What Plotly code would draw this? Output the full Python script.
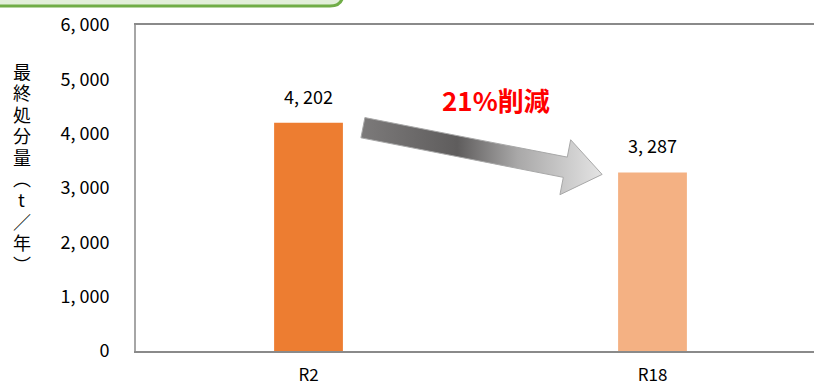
import math
import plotly.graph_objects as go

# Final disposal amount (t/year)
categories = ["R2", "R18"]
values = [4202, 3287]
bar_colors = ["#ED7D31", "#F4B183"]
y_ticks = [0, 1000, 2000, 3000, 4000, 5000, 6000]
y_title = "最終処分量︵t／年︶"

FONT = "Noto Sans CJK JP"
W, H = 814, 385
ML, MR, MT, MB = 136, 0, 25, 34
PW, PH = W - ML - MR, H - MT - MB
X_RANGE = [-0.5015, 1.4695]
Y_RANGE = [0, 6000]
BAR_W = 0.2


def fmt(v):
    return f"{v:,}".replace(",", ", ")


# pixel <-> data helpers for decorations
def px_to_x(px):
    return (px - ML) / PW * (X_RANGE[1] - X_RANGE[0]) + X_RANGE[0]


def py_to_y(py):
    return (MT + PH - py) / PH * (Y_RANGE[1] - Y_RANGE[0]) + Y_RANGE[0]


def x_to_px(x):
    return ML + (x - X_RANGE[0]) / (X_RANGE[1] - X_RANGE[0]) * PW


def y_to_py(y):
    return MT + PH - (y - Y_RANGE[0]) / (Y_RANGE[1] - Y_RANGE[0]) * PH


def paper_x(px):
    return (px - ML) / PW


def paper_y(py):
    return (MT + PH - py) / PH


xs = list(range(len(categories)))

fig = go.Figure()
fig.add_trace(go.Bar(
    x=xs, y=values, width=BAR_W,
    marker=dict(color=bar_colors, line=dict(width=0)),
    hoverinfo="skip",
))

# Gradient arrow from the first bar's top toward the second bar's top
bw_px = BAR_W / (X_RANGE[1] - X_RANGE[0]) * PW
tail = (x_to_px(xs[0]) + bw_px / 2 + 20, y_to_py(values[0]) + 5)
tip = (x_to_px(xs[1]) - bw_px / 2 - 16, y_to_py(values[1]) + 2)
dx, dy = tip[0] - tail[0], tip[1] - tail[1]
L = math.hypot(dx, dy)
ux, uy = dx / L, dy / L
nx, ny = -uy, ux
shaft_h, head_h, head_len = 10.3, 28.0, 37.5
base = (tip[0] - ux * head_len, tip[1] - uy * head_len)
pts = [
    (tail[0] - nx * shaft_h, tail[1] - ny * shaft_h),
    (base[0] - nx * shaft_h, base[1] - ny * shaft_h),
    (base[0] - nx * head_h, base[1] - ny * head_h),
    tip,
    (base[0] + nx * head_h, base[1] + ny * head_h),
    (base[0] + nx * shaft_h, base[1] + ny * shaft_h),
    (tail[0] + nx * shaft_h, tail[1] + ny * shaft_h),
]
pts.append(pts[0])
fig.add_trace(go.Scatter(
    x=[px_to_x(p[0]) for p in pts],
    y=[py_to_y(p[1]) for p in pts],
    mode="lines", fill="toself",
    fillgradient=dict(type="horizontal", colorscale=[
        [0.0, "#7c7a7a"], [0.4, "#5f5d5d"], [0.65, "#a9a8a8"], [1.0, "#e4e4e4"]]),
    line=dict(color="#a8a8a8", width=1),
    hoverinfo="skip",
))

annotations = []
for x, v in zip(xs, values):
    annotations.append(dict(
        x=x, y=v, xref="x", yref="y", text=fmt(v), showarrow=False,
        yanchor="bottom", yshift=12, font=dict(family=FONT, size=18, color="#000000"),
    ))

reduction = int((values[0] - values[1]) / values[0] * 100)
annotations.append(dict(
    x=0.545, y=4630, xref="x", yref="y", text=f"<b>{reduction}%削減</b>",
    showarrow=False, font=dict(family=FONT, size=26, color="#FF0000"),
))

# Vertical axis title, one character per row
title_top, title_step = 71, 21.4
for i, ch in enumerate(y_title):
    annotations.append(dict(
        x=paper_x(22), y=paper_y(title_top + i * title_step), xref="paper", yref="paper",
        text=ch, showarrow=False, xanchor="center", yanchor="middle",
        font=dict(family=FONT, size=18, color="#000000"),
    ))

# Title tab peeking in at the top-left
r = 13
x0, x1 = paper_x(-10), paper_x(343)
yt, yb = paper_y(-20), paper_y(6)
xr = paper_x(343 - r)
yr = paper_y(6 - r)
path = (f"M {x0},{yt} L {x1},{yt} L {x1},{yr} "
        f"Q {x1},{yb} {xr},{yb} L {x0},{yb} Z")
shapes = [dict(type="path", xref="paper", yref="paper", path=path,
               fillcolor="#E2EFDA", line=dict(color="#70AD47", width=3), layer="above")]

fig.update_layout(
    width=W, height=H,
    margin=dict(l=ML, r=MR, t=MT, b=MB, pad=0),
    paper_bgcolor="white", plot_bgcolor="white",
    showlegend=False,
    annotations=annotations,
    shapes=shapes,
    font=dict(family=FONT, size=17, color="#000000"),
)
fig.update_xaxes(
    range=X_RANGE, tickvals=xs, ticktext=categories,
    showline=True, linecolor="#8a8a8a", linewidth=2, mirror=True,
    showgrid=False, zeroline=False, ticks="", ticklabelstandoff=8,
    tickfont=dict(family=FONT, size=17, color="#000000"), fixedrange=True,
)
fig.update_yaxes(
    range=Y_RANGE, tickvals=y_ticks, ticktext=[fmt(v) for v in y_ticks],
    showline=True, linecolor="#a6a6a6", linewidth=2,
    showgrid=False, zeroline=False, ticks="", ticklabelstandoff=21,
    tickfont=dict(family=FONT, size=18, color="#000000"), fixedrange=True,
)

fig.write_html("out.html")
